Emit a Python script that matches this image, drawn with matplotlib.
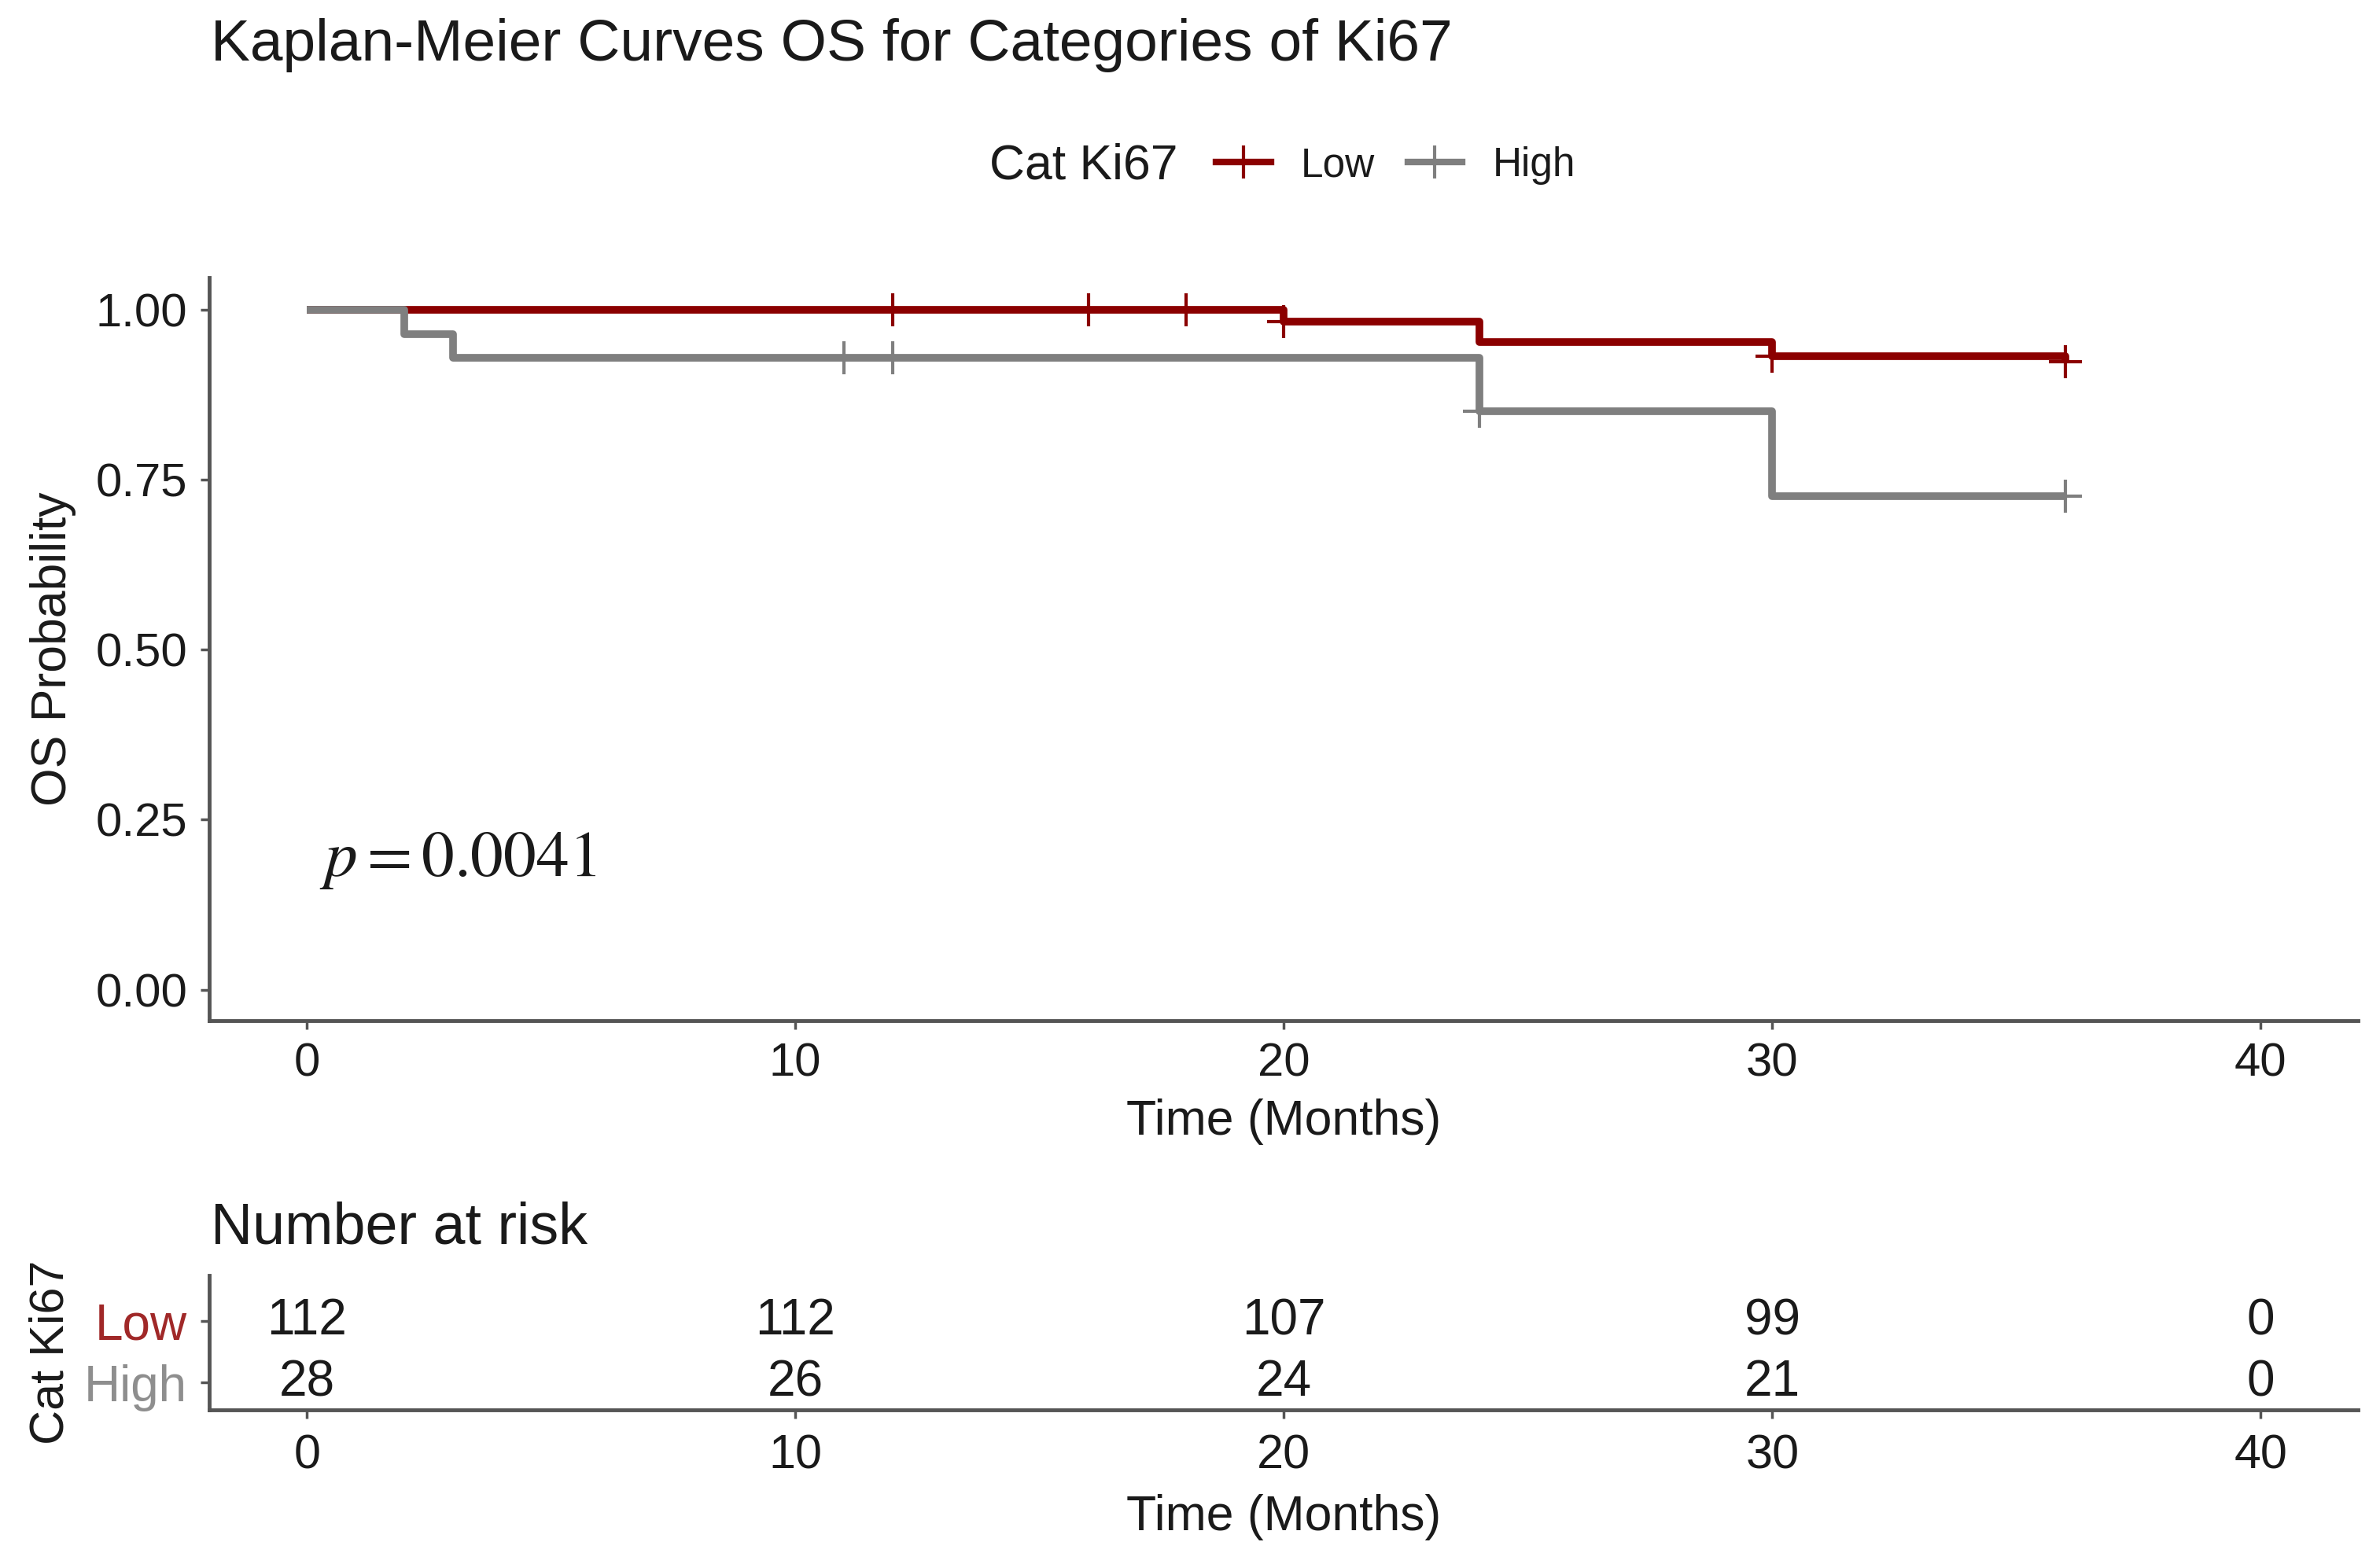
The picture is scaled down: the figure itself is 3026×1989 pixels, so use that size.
import numpy as np
import matplotlib.pyplot as plt
from matplotlib.lines import Line2D

plt.rcParams['font.family'] = ['Liberation Sans', 'DejaVu Sans']
plt.rcParams['mathtext.fontset'] = 'stix'

# survival curves (step, post)
low_t = [0, 20, 24, 30, 36]
low_s = [1.0, 0.982, 0.952, 0.932, 0.923]
low_cens_t = [12, 16, 18, 20, 30, 36]
low_cens_s = [1.0, 1.0, 1.0, 0.982, 0.932, 0.923]

high_t = [0, 2, 3, 24, 30, 36]
high_s = [1.0, 0.964, 0.929, 0.850, 0.726, 0.726]
high_cens_t = [11, 12, 24, 36]
high_cens_s = [0.929, 0.929, 0.850, 0.726]

# number at risk table
risk_times = [0, 10, 20, 30, 40]
risk_low = [112, 112, 107, 99, 0]
risk_high = [28, 26, 24, 21, 0]
groups = ['Low', 'High']

col_low = '#8B0000'
col_high = '#7F7F7F'
lab_low = '#A02828'
lab_high = '#8E8E8E'
spine_col = '#555555'
txt = '#1A1A1A'

fig = plt.figure(figsize=(30.26, 19.89), dpi=100)

# ---- main KM plot
ax = fig.add_axes([0.0879, 0.3476, 0.903, 0.4749])
ax.step(low_t, low_s, where='post', color=col_low, lw=7, solid_capstyle='butt')
ax.plot(low_cens_t, low_cens_s, ls='none', marker='+', ms=30, mew=3, color=col_low)
ax.step(high_t, high_s, where='post', color=col_high, lw=7, solid_capstyle='butt')
ax.plot(high_cens_t, high_cens_s, ls='none', marker='+', ms=30, mew=3, color=col_high)

ax.set_xlim(-2, 42)
ax.set_ylim(-0.045, 1.047)
ax.set_xticks([0, 10, 20, 30, 40])
ax.set_yticks([0, 0.25, 0.5, 0.75, 1.0])
ax.set_yticklabels(['0.00', '0.25', '0.50', '0.75', '1.00'])
ax.set_xlabel('Time (Months)', fontsize=45, color=txt, labelpad=12)
ax.set_ylabel('OS Probability', fontsize=45, color=txt)
ax.yaxis.set_label_coords(-0.062, 0.5)

ax.text(0.25, 0.19, r'$p = 0.0041$', fontsize=60, ha='left', va='center', color=txt)

for s in ['top', 'right']:
    ax.spines[s].set_visible(False)
for s in ['left', 'bottom']:
    ax.spines[s].set_color(spine_col)
    ax.spines[s].set_linewidth(3.5)
ax.tick_params(axis='both', labelsize=43, colors=spine_col, labelcolor=txt,
               length=8, width=2.5, pad=12)

fig.text(0.0885, 0.971, 'Kaplan-Meier Curves OS for Categories of Ki67', fontsize=54,
         ha='left', va='center', color=txt)

# ---- legend
fig.text(0.495, 0.894, 'Cat Ki67', fontsize=45, ha='right', va='center', color=txt)
handles = [Line2D([], [], color=col_low, lw=6, marker='+', ms=30, mew=3),
           Line2D([], [], color=col_high, lw=6, marker='+', ms=30, mew=3)]
fig.legend(handles, groups, loc='center left', bbox_to_anchor=(0.511, 0.894), ncol=2,
           frameon=False, fontsize=37, handlelength=1.35, handletextpad=0.75,
           columnspacing=0.8, borderpad=0, borderaxespad=0, labelcolor=txt)

# ---- risk table
rx = fig.add_axes([0.0879, 0.0985, 0.903, 0.086])
rx.set_xlim(-2, 42)
rx.set_ylim(-0.45, 1.75)
for t, lo, hi in zip(risk_times, risk_low, risk_high):
    rx.text(t, 1, str(lo), fontsize=46, ha='center', va='center', color=txt)
    rx.text(t, 0, str(hi), fontsize=46, ha='center', va='center', color=txt)
rx.set_xticks(risk_times)
rx.set_yticks([1, 0])
rx.set_yticklabels(groups)
for s in ['top', 'right']:
    rx.spines[s].set_visible(False)
for s in ['left', 'bottom']:
    rx.spines[s].set_color(spine_col)
    rx.spines[s].set_linewidth(3.5)
rx.tick_params(axis='both', labelsize=44, colors=spine_col, labelcolor=txt,
               length=8, width=2.5, pad=14)
rx.tick_params(axis='y', labelsize=46, pad=12)
for lbl, c in zip(rx.get_yticklabels(), [lab_low, lab_high]):
    lbl.set_color(c)
rx.set_xlabel('Time (Months)', fontsize=45, color=txt, labelpad=14)
rx.set_ylabel('Cat Ki67', fontsize=44, color=txt)
rx.yaxis.set_label_coords(-0.063, 0.43)
fig.text(0.0885, 0.2147, 'Number at risk', fontsize=53, ha='left', va='center', color=txt)

fig.savefig('out.png', dpi=100)
